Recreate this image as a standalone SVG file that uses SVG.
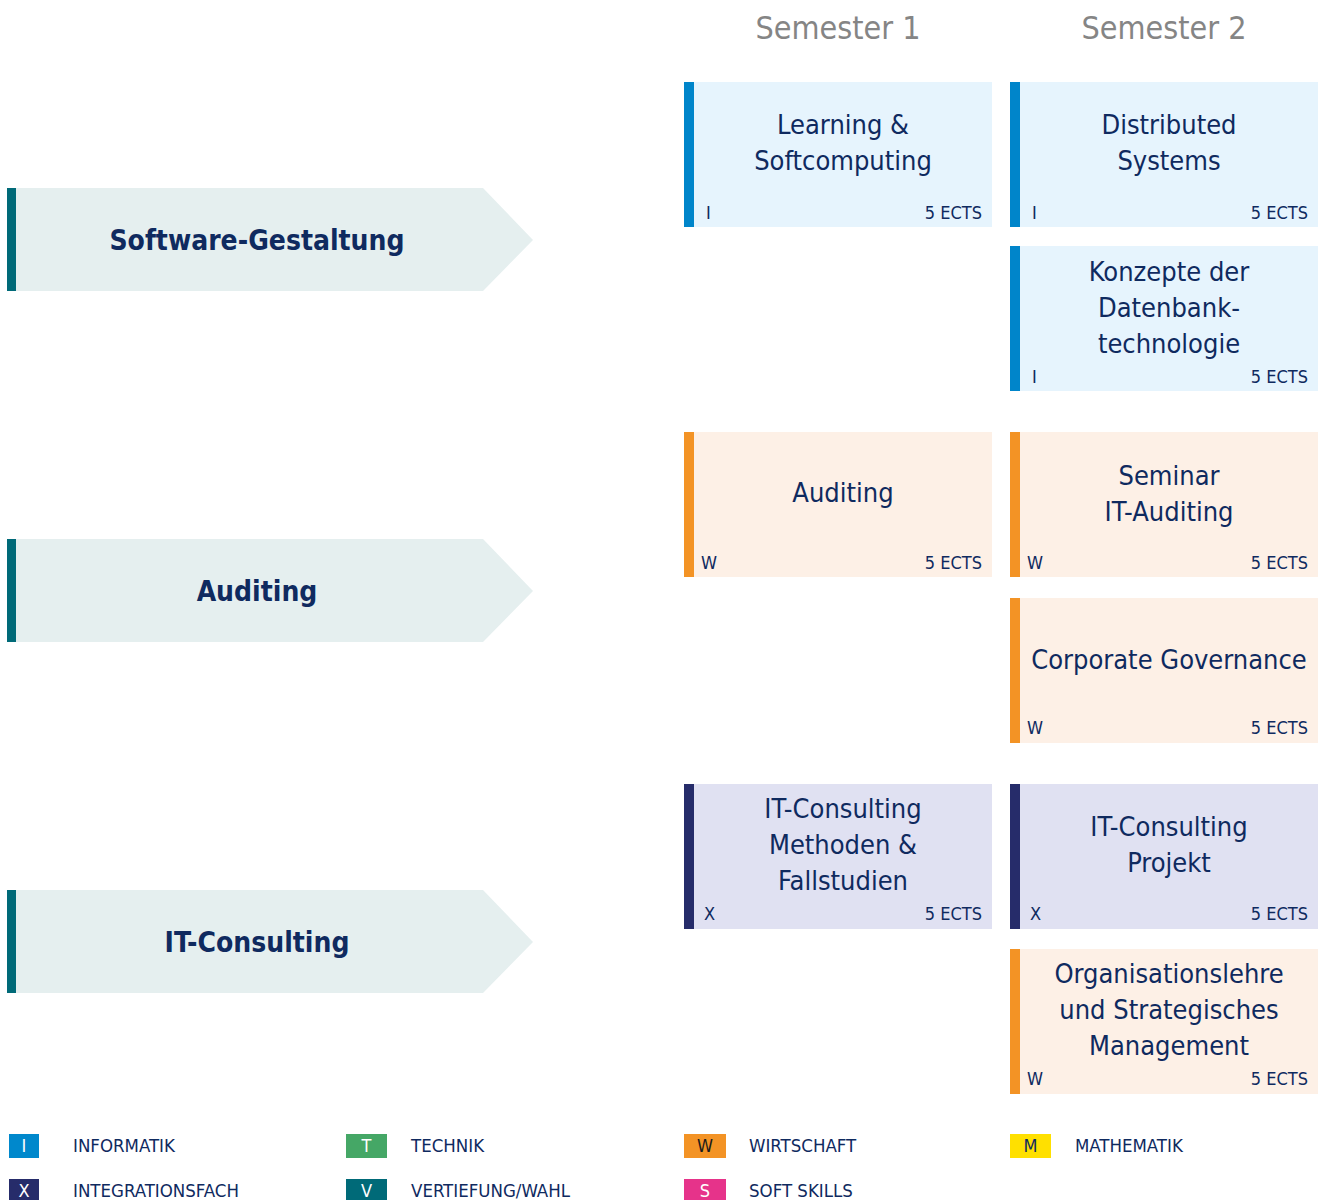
<svg xmlns="http://www.w3.org/2000/svg" width="1321" height="1200" viewBox="0 0 1321 1200">
<style>
.hdr{font-family:"DejaVu Sans Condensed","Liberation Sans",sans-serif;font-size:32px;fill:#858585;text-anchor:middle}
.ttl{font-family:"DejaVu Sans Condensed","Liberation Sans",sans-serif;font-size:27px;fill:#0F2A5F;text-anchor:middle}
.sm{font-family:"DejaVu Sans Condensed","Liberation Sans",sans-serif;font-size:18px;fill:#0F2A5F}
.ects{text-anchor:end}
.lbl{font-family:"DejaVu Sans Condensed","Liberation Sans",sans-serif;font-size:28px;font-weight:bold;fill:#0F2A5F;text-anchor:middle}
.arrow{fill:#E5EFEF}
.abar{fill:#006A78}
.bI{fill:#E6F4FD}.cI{fill:#0085CA}
.bW{fill:#FDF0E6}.cW{fill:#F39325}
.bX{fill:#E0E1F2}.cX{fill:#262C6A}
.lg{font-family:"DejaVu Sans Condensed","Liberation Sans",sans-serif;font-size:18.5px;fill:#0F2A5F}
.lk{font-family:"DejaVu Sans Condensed","Liberation Sans",sans-serif;font-size:18px;fill:#fff;text-anchor:middle}
</style>
<text class="hdr" x="838" y="39">Semester 1</text>
<text class="hdr" x="1164" y="39">Semester 2</text>

<g id="arrow-software">
<polygon class="arrow" points="7,188 483,188 533,240 483,291 7,291"/>
<rect class="abar" x="7" y="188" width="9" height="103"/>
<text class="lbl" x="257" y="250">Software-Gestaltung</text>
</g>
<g id="arrow-auditing">
<polygon class="arrow" points="7,539 483,539 533,591 483,642 7,642"/>
<rect class="abar" x="7" y="539" width="9" height="103"/>
<text class="lbl" x="257" y="601">Auditing</text>
</g>
<g id="arrow-consulting">
<polygon class="arrow" points="7,890 483,890 533,942 483,993 7,993"/>
<rect class="abar" x="7" y="890" width="9" height="103"/>
<text class="lbl" x="257" y="952">IT-Consulting</text>
</g>

<g id="card-learning">
<rect class="bI" x="684" y="82" width="308" height="145"/><rect class="cI" x="684" y="82" width="10" height="145"/>
<text class="ttl" x="843" y="134">Learning &amp;</text><text class="ttl" x="843" y="170">Softcomputing</text>
<text class="sm" x="706" y="219">I</text><text class="sm ects" x="982" y="219">5 ECTS</text>
</g>
<g id="card-distributed">
<rect class="bI" x="1010" y="82" width="308" height="145"/><rect class="cI" x="1010" y="82" width="10" height="145"/>
<text class="ttl" x="1169" y="134">Distributed</text><text class="ttl" x="1169" y="170">Systems</text>
<text class="sm" x="1032" y="219">I</text><text class="sm ects" x="1308" y="219">5 ECTS</text>
</g>
<g id="card-konzepte">
<rect class="bI" x="1010" y="246" width="308" height="145"/><rect class="cI" x="1010" y="246" width="10" height="145"/>
<text class="ttl" x="1169" y="281">Konzepte der</text><text class="ttl" x="1169" y="317">Datenbank-</text><text class="ttl" x="1169" y="353">technologie</text>
<text class="sm" x="1032" y="383">I</text><text class="sm ects" x="1308" y="383">5 ECTS</text>
</g>
<g id="card-auditing">
<rect class="bW" x="684" y="432" width="308" height="145"/><rect class="cW" x="684" y="432" width="10" height="145"/>
<text class="ttl" x="843" y="502">Auditing</text>
<text class="sm" x="701" y="569">W</text><text class="sm ects" x="982" y="569">5 ECTS</text>
</g>
<g id="card-seminar">
<rect class="bW" x="1010" y="432" width="308" height="145"/><rect class="cW" x="1010" y="432" width="10" height="145"/>
<text class="ttl" x="1169" y="485">Seminar</text><text class="ttl" x="1169" y="521">IT-Auditing</text>
<text class="sm" x="1027" y="569">W</text><text class="sm ects" x="1308" y="569">5 ECTS</text>
</g>
<g id="card-governance">
<rect class="bW" x="1010" y="598" width="308" height="145"/><rect class="cW" x="1010" y="598" width="10" height="145"/>
<text class="ttl" x="1169" y="669">Corporate Governance</text>
<text class="sm" x="1027" y="734">W</text><text class="sm ects" x="1308" y="734">5 ECTS</text>
</g>
<g id="card-methoden">
<rect class="bX" x="684" y="784" width="308" height="145"/><rect class="cX" x="684" y="784" width="10" height="145"/>
<text class="ttl" x="843" y="818">IT-Consulting</text><text class="ttl" x="843" y="854">Methoden &amp;</text><text class="ttl" x="843" y="890">Fallstudien</text>
<text class="sm" x="704" y="920">X</text><text class="sm ects" x="982" y="920">5 ECTS</text>
</g>
<g id="card-projekt">
<rect class="bX" x="1010" y="784" width="308" height="145"/><rect class="cX" x="1010" y="784" width="10" height="145"/>
<text class="ttl" x="1169" y="836">IT-Consulting</text><text class="ttl" x="1169" y="872">Projekt</text>
<text class="sm" x="1030" y="920">X</text><text class="sm ects" x="1308" y="920">5 ECTS</text>
</g>
<g id="card-organisation">
<rect class="bW" x="1010" y="949" width="308" height="145"/><rect class="cW" x="1010" y="949" width="10" height="145"/>
<text class="ttl" x="1169" y="983">Organisationslehre</text><text class="ttl" x="1169" y="1019">und Strategisches</text><text class="ttl" x="1169" y="1055">Management</text>
<text class="sm" x="1027" y="1085">W</text><text class="sm ects" x="1308" y="1085">5 ECTS</text>
</g>

<g id="legend">
<rect x="9" y="1134" width="30" height="24" fill="#0088CC"/><text class="lk" x="24" y="1152">I</text><text class="lg" x="73" y="1152">INFORMATIK</text>
<rect x="9" y="1179" width="30" height="21" fill="#262C6A"/><text class="lk" x="24" y="1197">X</text><text class="lg" x="73" y="1197">INTEGRATIONSFACH</text>
<rect x="346" y="1134" width="41" height="24" fill="#45A766"/><text class="lk" x="366.5" y="1152">T</text><text class="lg" x="411" y="1152">TECHNIK</text>
<rect x="346" y="1179" width="41" height="21" fill="#006A78"/><text class="lk" x="366.5" y="1197">V</text><text class="lg" x="411" y="1197">VERTIEFUNG/WAHL</text>
<rect x="684" y="1134" width="42" height="24" fill="#F39325"/><text class="lk" x="705" y="1152" style="fill:#1a1a1a">W</text><text class="lg" x="749" y="1152">WIRTSCHAFT</text>
<rect x="684" y="1179" width="42" height="21" fill="#E6338A"/><text class="lk" x="705" y="1197">S</text><text class="lg" x="749" y="1197">SOFT SKILLS</text>
<rect x="1010" y="1134" width="41" height="24" fill="#FFE000"/><text class="lk" x="1030.5" y="1152" style="fill:#0F2A5F">M</text><text class="lg" x="1075" y="1152">MATHEMATIK</text>
</g>
</svg>
